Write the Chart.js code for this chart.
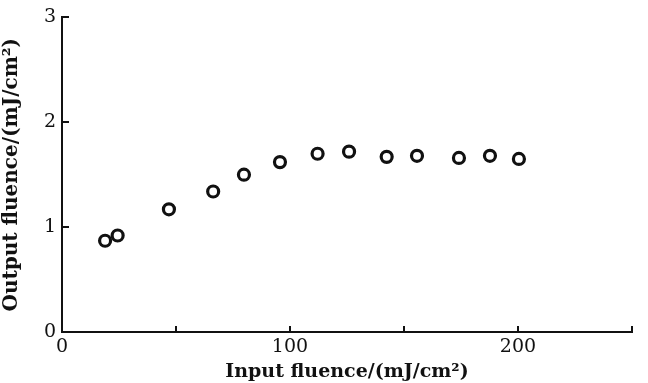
<!DOCTYPE html>
<html>
<head>
<meta charset="utf-8">
<script src="https://cdn.jsdelivr.net/npm/chart.js@4.4.1/dist/chart.umd.min.js"></script>
<style>
  html, body { margin: 0; padding: 0; background: #fff; }
  #wrap { width: 648px; height: 383px; }
</style>
</head>
<body>
<div id="wrap"><canvas id="c"></canvas></div>
<script>
// input fluence (mJ/cm2) vs output fluence (mJ/cm2)
const inputFluence = [18.9, 24.4, 46.9, 66.3, 79.8, 95.6, 112.1, 125.9, 142.4, 155.7, 174.1, 187.7, 200.4];
const outputFluence = [0.87, 0.92, 1.17, 1.34, 1.50, 1.62, 1.70, 1.72, 1.67, 1.68, 1.66, 1.68, 1.65];
const xLabelTicks = [0, 100, 200];
const yLabelTicks = [0, 1, 2, 3];

const serif = '"DejaVu Serif", "Liberation Serif", serif';
const ink = '#111';

// short ticks pointing into the plot, like the scanned figure
const InwardTicks = {
  id: 'inwardTicks',
  afterDraw(chart) {
    const { ctx, scales: { x, y }, chartArea: a } = chart;
    ctx.save();
    ctx.strokeStyle = ink;
    ctx.lineWidth = 2;
    ctx.beginPath();
    x.ticks.forEach(t => {
      if (t.value === 0) return;
      const px = Math.round(x.getPixelForValue(t.value));
      ctx.moveTo(px, a.bottom);
      ctx.lineTo(px, a.bottom - 6);
    });
    y.ticks.forEach(t => {
      if (t.value === 0) return;
      const py = Math.round(y.getPixelForValue(t.value));
      ctx.moveTo(a.left, py);
      ctx.lineTo(a.left + 7, py);
    });
    ctx.stroke();
    ctx.restore();
  }
};

new Chart(document.getElementById('c'), {
  type: 'scatter',
  data: {
    datasets: [{
      data: inputFluence.map((v, i) => ({ x: v, y: outputFluence[i] })),
      pointStyle: 'circle',
      pointRadius: 5.5,
      pointBorderWidth: 3.2,
      pointBackgroundColor: '#fff',
      pointBorderColor: ink,
      pointHoverRadius: 5.5
    }]
  },
  options: {
    responsive: true,
    maintainAspectRatio: false,
    animation: false,
    layout: { padding: { top: 12, right: 16, left: 0, bottom: 0 } },
    plugins: { legend: { display: false }, tooltip: { enabled: false } },
    scales: {
      x: {
        type: 'linear', min: 0, max: 250,
        grid: { display: true, drawOnChartArea: false, drawTicks: false },
        border: { display: true, color: ink, width: 2 },
        ticks: {
          stepSize: 50, padding: 4, color: ink, maxRotation: 0, autoSkip: false,
          font: { family: serif, size: 19 },
          callback: v => xLabelTicks.includes(v) ? String(v) : ''
        },
        title: {
          display: true, text: 'Input fluence/(mJ/cm²)', color: ink,
          font: { family: serif, size: 19, weight: 'bold' },
          padding: { top: -6, bottom: 0 }
        },
        afterFit: s => { s.height = 51; }
      },
      y: {
        type: 'linear', min: 0, max: 3,
        grid: { display: true, drawOnChartArea: false, drawTicks: false },
        border: { display: true, color: ink, width: 2 },
        ticks: {
          stepSize: 1, padding: 6, color: ink,
          font: { family: serif, size: 19 },
          callback: v => yLabelTicks.includes(v) ? String(v) : ''
        },
        title: {
          display: true, text: 'Output fluence/(mJ/cm²)', color: ink,
          font: { family: serif, size: 20, weight: 'bold' },
          padding: { top: 0, bottom: 4 }
        },
        afterFit: s => { s.width = 62; }
      }
    }
  },
  plugins: [InwardTicks]
});
</script>
</body>
</html>
